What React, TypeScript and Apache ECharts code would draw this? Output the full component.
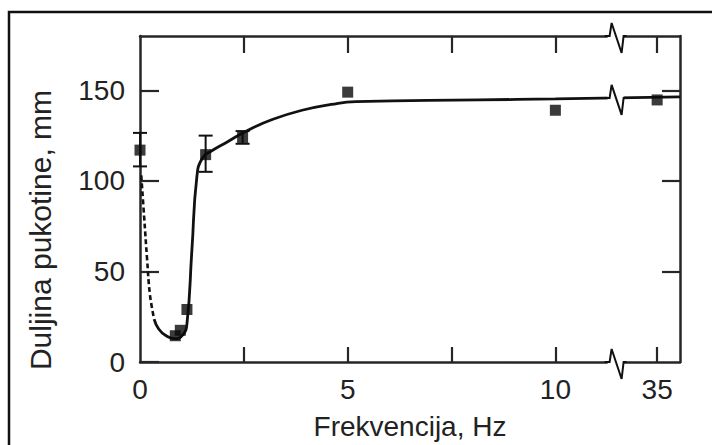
import React, { useEffect, useRef } from "react";
import * as echarts from "echarts";

// ---- data (frequency in Hz, crack length in mm) ----
const POINT_HZ = [0, 0.85, 0.97, 1.13, 1.58, 2.47, 5, 10, 35];
const POINT_MM = [117, 14.5, 17.5, 29, 114.5, 124, 149, 139, 144.7];

const ERR_HZ = [0, 1.58, 2.47];
const ERR_LOW_MM = [108, 105, 120.5];
const ERR_HIGH_MM = [126.5, 125, 127.5];

const DASH_HZ = [0.03, 0.1, 0.17, 0.24, 0.34];
const DASH_MM = [103, 80, 57, 37, 23.7];

const FIT_HZ = [0.34, 0.45, 0.62, 0.84, 1.03, 1.13, 1.25, 1.37, 1.5, 1.72, 2.1, 2.6, 3.2, 3.9, 4.6, 5.2, 8.15, 10, 35.55];
const FIT_MM = [23.7, 18.2, 14.6, 12.9, 15, 21, 62, 102.5, 112.5, 116.5, 121.5, 128, 134, 139, 142.2, 143.8, 144.7, 145.3, 146.4];

const X_TICK_HZ = [2.5, 5, 7.5, 10, 35];
const X_LABEL_HZ = [0, 5, 10, 35];
const Y_TICKS = [0, 50, 100, 150];
const Y_RIGHT_TICKS = [50, 100, 150];
const X_MIN_HZ = 0;
const X_MAX_HZ = 35.55;
const Y_MIN = 0;
const Y_MAX = 180;

// broken x axis: the range BREAK_FROM_HZ..BREAK_TO_HZ is cut out
const BREAK_FROM_HZ = 11.45;
const BREAK_TO_HZ = 34;

const X_TITLE = "Frekvencija, Hz";
const Y_TITLE = "Duljina pukotine, mm";

const toAxis = (hz: number) => (hz <= BREAK_FROM_HZ ? hz : BREAK_FROM_HZ + (hz - BREAK_TO_HZ));
const fromAxis = (v: number) => (v <= BREAK_FROM_HZ + 1e-9 ? v : v - BREAK_FROM_HZ + BREAK_TO_HZ);

const FONT = '"Liberation Sans", Arial, Helvetica, sans-serif';
const INK = "#111111";
const AXIS_INK = "#262626";

export default function App() {
  const ref = useRef<HTMLDivElement | null>(null);

  useEffect(() => {
    if (!ref.current) return;
    const chart = echarts.init(ref.current, undefined, { renderer: "svg" });

    const xMin = toAxis(X_MIN_HZ);
    const xMax = toAxis(X_MAX_HZ);

    const axisLineStyle = { color: AXIS_INK, width: 2.5 };
    const tickStyle = { color: AXIS_INK, width: 2.2 };

    const option: any = {
      animation: false,
      backgroundColor: "#ffffff",
      grid: { left: 140, top: 36, right: 32, bottom: 82 },
      xAxis: [
        {
          type: "value",
          min: xMin,
          max: xMax,
          position: "bottom",
          axisLine: { show: true, onZero: false, lineStyle: axisLineStyle },
          axisTick: {
            show: true,
            inside: true,
            length: 15,
            lineStyle: tickStyle,
            customValues: X_TICK_HZ.map(toAxis),
          },
          axisLabel: {
            show: true,
            margin: 13,
            fontSize: 28,
            fontFamily: FONT,
            color: "#222",
            customValues: X_LABEL_HZ.map(toAxis),
            formatter: (v: number) => String(Math.round(fromAxis(v))),
          },
          splitLine: { show: false },
          name: X_TITLE,
          nameLocation: "middle",
          nameGap: 50,
          nameTextStyle: { fontSize: 28, fontFamily: FONT, color: "#222" },
        },
        {
          type: "value",
          min: xMin,
          max: xMax,
          position: "top",
          axisLine: { show: true, onZero: false, lineStyle: axisLineStyle },
          axisTick: {
            show: true,
            inside: true,
            length: 17,
            lineStyle: tickStyle,
            customValues: X_TICK_HZ.map(toAxis),
          },
          axisLabel: { show: false },
          splitLine: { show: false },
        },
      ],
      yAxis: [
        {
          type: "value",
          min: Y_MIN,
          max: Y_MAX,
          position: "left",
          axisLine: { show: true, onZero: false, lineStyle: axisLineStyle },
          axisTick: {
            show: true,
            inside: true,
            length: 19,
            lineStyle: tickStyle,
            customValues: Y_TICKS,
          },
          axisLabel: {
            show: true,
            margin: 15,
            fontSize: 28,
            fontFamily: FONT,
            color: "#222",
            customValues: Y_TICKS,
          },
          splitLine: { show: false },
        },
        {
          type: "value",
          min: Y_MIN,
          max: Y_MAX,
          position: "right",
          axisLine: { show: true, onZero: false, lineStyle: axisLineStyle },
          axisTick: {
            show: true,
            inside: true,
            length: 18,
            lineStyle: tickStyle,
            customValues: Y_RIGHT_TICKS,
          },
          axisLabel: { show: false },
          splitLine: { show: false },
        },
      ],
      series: [
        {
          type: "line",
          name: "dashed",
          xAxisIndex: 0,
          yAxisIndex: 0,
          data: DASH_HZ.map((h, i) => [toAxis(h), DASH_MM[i]]),
          showSymbol: false,
          symbol: "none",
          smooth: 0.4,
          lineStyle: { color: INK, width: 2.6, type: [5, 3] },
          clip: false,
          z: 3,
        },
        {
          type: "line",
          name: "fit",
          xAxisIndex: 0,
          yAxisIndex: 0,
          data: FIT_HZ.map((h, i) => [toAxis(h), FIT_MM[i]]),
          showSymbol: false,
          symbol: "none",
          smooth: 0.5,
          lineStyle: { color: INK, width: 2.8 },
          clip: false,
          z: 3,
        },
        {
          type: "custom",
          name: "errors",
          xAxisIndex: 0,
          yAxisIndex: 0,
          clip: false,
          z: 4,
          data: ERR_HZ.map((h, i) => [toAxis(h), ERR_LOW_MM[i], ERR_HIGH_MM[i]]),
          encode: { x: 0, y: [1, 2] },
          renderItem: (_params: any, api: any) => {
            const x = api.value(0);
            const lo = api.coord([x, api.value(1)]);
            const hi = api.coord([x, api.value(2)]);
            const w = 7;
            const style = { stroke: INK, lineWidth: 2 };
            return {
              type: "group",
              children: [
                { type: "line", shape: { x1: lo[0], y1: lo[1], x2: hi[0], y2: hi[1] }, style },
                { type: "line", shape: { x1: lo[0] - w, y1: lo[1], x2: lo[0] + w, y2: lo[1] }, style },
                { type: "line", shape: { x1: hi[0] - w, y1: hi[1], x2: hi[0] + w, y2: hi[1] }, style },
              ],
            };
          },
        },
        {
          type: "scatter",
          name: "points",
          xAxisIndex: 0,
          yAxisIndex: 0,
          data: POINT_HZ.map((h, i) => [toAxis(h), POINT_MM[i]]),
          symbol: "rect",
          symbolSize: 11,
          itemStyle: { color: "#0a0a0a" },
          clip: false,
          z: 5,
        },
      ],
    };

    chart.setOption(option);

    // break marks (axis positions obtained from the chart's own scales)
    const bx = chart.convertToPixel({ xAxisIndex: 0 }, toAxis(BREAK_FROM_HZ)) as number;
    const yTop = chart.convertToPixel({ yAxisIndex: 0 }, Y_MAX) as number;
    const yBot = chart.convertToPixel({ yAxisIndex: 0 }, Y_MIN) as number;
    // curve value at the break, from the fitted curve points
    let curveAtBreak = FIT_MM[FIT_MM.length - 1];
    for (let i = 0; i < FIT_HZ.length - 1; i++) {
      const a = toAxis(FIT_HZ[i]);
      const b = toAxis(FIT_HZ[i + 1]);
      const t = toAxis(BREAK_FROM_HZ);
      if (t >= a && t <= b) {
        curveAtBreak = FIT_MM[i] + ((t - a) / (b - a)) * (FIT_MM[i + 1] - FIT_MM[i]);
        break;
      }
    }
    const yCurve = chart.convertToPixel({ yAxisIndex: 0 }, curveAtBreak) as number;

    const breakMark = (y: number) => [
      {
        type: "rect",
        z: 100,
        shape: { x: bx - 8, y: y - 3, width: 16, height: 6 },
        style: { fill: "#ffffff" },
      },
      {
        type: "polyline",
        z: 101,
        shape: {
          points: [
            [bx - 11, y],
            [bx - 6, y],
            [bx - 4, y - 13],
            [bx + 6, y + 17],
            [bx + 8, y],
            [bx + 11, y],
          ],
        },
        style: { stroke: INK, lineWidth: 2, fill: null },
      },
    ];

    chart.setOption({
      graphic: {
        elements: [
          {
            type: "rect",
            z: 0,
            silent: true,
            shape: { x: 9, y: 12, width: 760, height: 500 },
            style: { fill: null, stroke: "#111", lineWidth: 2.5 },
          },
          {
            type: "text",
            z: 50,
            x: 40,
            y: 230,
            rotation: Math.PI / 2,
            style: {
              text: Y_TITLE,
              font: `30px ${FONT}`,
              fill: "#222",
              align: "center",
              verticalAlign: "middle",
            },
          },
          ...breakMark(yTop),
          ...breakMark(yCurve),
          ...breakMark(yBot),
        ],
      },
    });

    return () => {
      chart.dispose();
    };
  }, []);

  return (
    <div
      ref={ref}
      style={{ position: "absolute", left: 0, top: 0, width: 712, height: 445, background: "#fff" }}
    />
  );
}
